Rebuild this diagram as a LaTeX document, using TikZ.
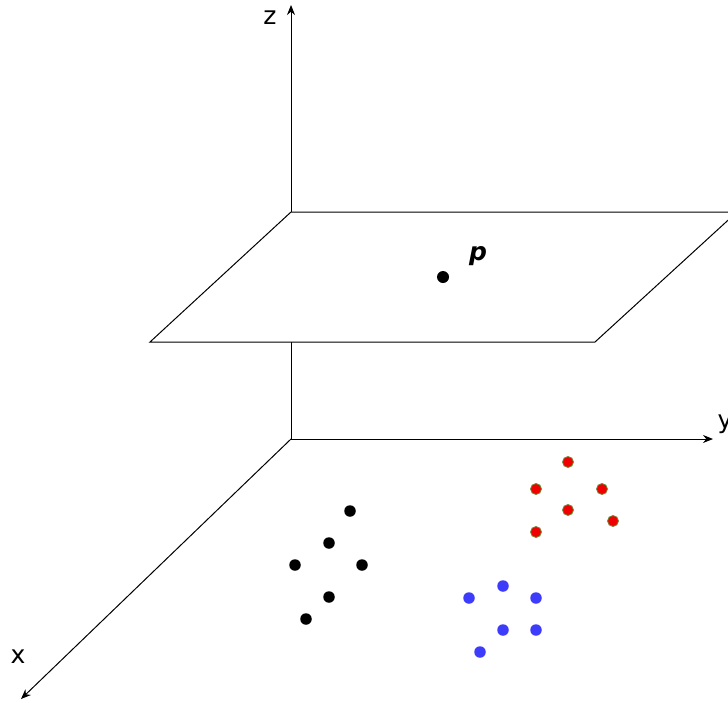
\documentclass[tikz,border=0pt]{standalone}
\usepackage{fontspec}
\setmainfont{DejaVu Sans}
\usetikzlibrary{arrows.meta}
\definecolor{dotred}{RGB}{240,0,0}
\definecolor{dotrim}{RGB}{110,140,60}
\definecolor{dotblue}{RGB}{60,60,250}
\tikzset{
  axis/.style={line width=1pt,-{Stealth[length=10pt,width=8pt]}},
  planeedge/.style={line width=1pt},
  lbl/.style={font=\fontsize{25}{28}\selectfont,inner sep=0pt},
  bdot/.style={circle,fill=black,inner sep=0pt,minimum size=11.5pt},
  rdot/.style={circle,fill=dotred,draw=dotrim,line width=0.8pt,inner sep=0pt,minimum size=11pt},
  udot/.style={circle,fill=dotblue,inner sep=0pt,minimum size=11.5pt},
}
\begin{document}
\begin{tikzpicture}[x=1pt,y=-1pt]
\useasboundingbox (0,0) rectangle (728,702);
\clip (0,0) rectangle (728,702);
\coordinate (O) at (291,439);
\coordinate (Z) at (291,5);
\coordinate (Y) at (713,439);
\coordinate (X) at (21,699);
\coordinate (P1) at (291,212);
\coordinate (P2) at (737,212);
\coordinate (P3) at (595,342);
\coordinate (P4) at (150,342);
% axes
\draw[axis] (O) -- (Z);
\draw[axis] (O) -- (Y);
\draw[axis] (O) -- (X);
% plane
\filldraw[planeedge,fill=white] (P1) -- (P2) -- (P3) -- (P4) -- cycle;
% labels
\node[lbl] (zl) at (270,18) {z};
\node[lbl] (yl) at (725,424) {y};
\node[lbl] (xl) at (18,657) {x};
% p
\node[bdot,minimum size=12pt] (p) at (443,277) {};
\node[lbl,font=\fontsize{25}{28}\selectfont\bfseries\itshape] (pl) at (478,256) {p};
% black cluster
\node[bdot] (b1) at (350,511) {};
\node[bdot] (b2) at (329,543) {};
\node[bdot] (b3) at (295,565) {};
\node[bdot] (b4) at (362,565) {};
\node[bdot] (b5) at (329,597) {};
\node[bdot] (b6) at (306,619) {};
% red cluster
\node[rdot] (r1) at (568,462) {};
\node[rdot] (r2) at (536,489) {};
\node[rdot] (r3) at (602,489) {};
\node[rdot] (r4) at (568,510) {};
\node[rdot] (r5) at (613,521) {};
\node[rdot] (r6) at (536,532) {};
% blue cluster
\node[udot] (u1) at (503,586) {};
\node[udot] (u2) at (469,598) {};
\node[udot] (u3) at (536,598) {};
\node[udot] (u4) at (503,630) {};
\node[udot] (u5) at (536,630) {};
\node[udot] (u6) at (480,652) {};
\end{tikzpicture}
\end{document}
